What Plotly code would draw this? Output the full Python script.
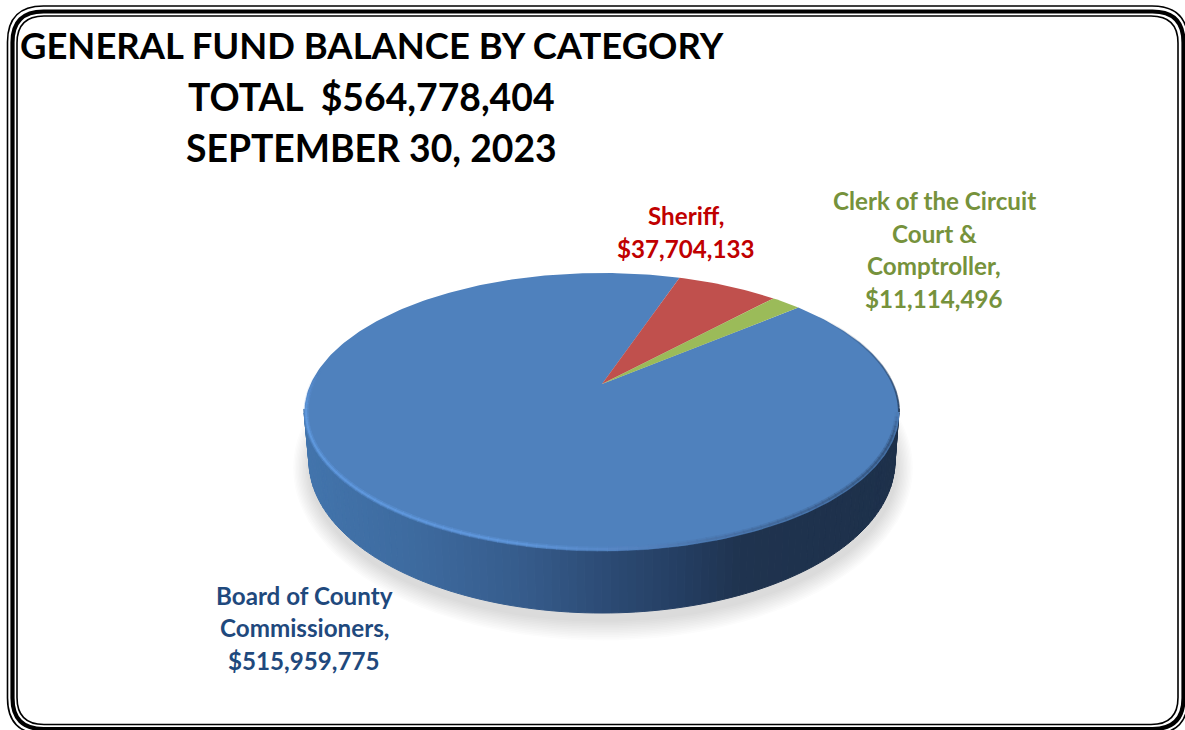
import math
import plotly.graph_objects as go

# ---- data ----
categories = ["Board of County Commissioners", "Sheriff", "Clerk of the Circuit Court & Comptroller"]
values = [515959775, 37704133, 11114496]
slice_colors = ["#4F81BD", "#C0504D", "#9BBB59"]
label_lines = [
    ["Board of County", "Commissioners,", "$515,959,775"],
    ["Sheriff,", "$37,704,133"],
    ["Clerk of the Circuit", "Court &", "Comptroller,", "$11,114,496"],
]
label_colors = ["#1F497D", "#C00000", "#76923C"]
title_lines = ["GENERAL FUND BALANCE BY CATEGORY", "TOTAL  $564,778,404", "SEPTEMBER 30, 2023"]
first_slice_angle = 49.6

# ---- geometry of the tilted disc (page-sized axes) ----
W, H = 1185, 730
APEX_X, APEX_Y = 602.0, 384.0
K, A, B = 0.2014, 133.4, 291.4      # perspective of the top face
TOP = (601.5, 412.0, 297.5, 139.0)  # cx, cy, rx, ry
BOT = (602.0, 461.0, 293.0, 152.0)

fig = go.Figure()


def poly(xs, ys, color):
    fig.add_trace(go.Scatter(x=xs, y=ys, mode="lines", fill="toself", fillcolor=color,
                             line=dict(width=0, color=color), hoverinfo="skip", showlegend=False))


def stroke(xs, ys, color, width):
    fig.add_trace(go.Scatter(x=xs, y=ys, mode="lines", line=dict(width=width, color=color),
                             hoverinfo="skip", showlegend=False))


def ell(e, t):
    return e[0] + e[2] * math.cos(t), e[1] + e[3] * math.sin(t)


def rim(theta_deg):
    th = math.radians(theta_deg)
    X, Y = math.sin(th), math.cos(th)
    d = 1 + K * Y
    return APEX_X + B * X / d, APEX_Y - A * Y / d


def mix(stops, v):
    for (a, ca), (b, cb) in zip(stops, stops[1:]):
        if v <= b:
            f = max(0, (v - a) / (b - a))
            return tuple(ca[i] + (cb[i] - ca[i]) * f for i in range(3))
    return stops[-1][1]


# soft shadow
for i in range(12, 0, -1):
    e = (603, 468, 293 + i * 1.4, 152 + i * 1.7)
    ts = [2 * math.pi * j / 120 for j in range(121)]
    pts = [ell(e, t) for t in ts]
    poly([p[0] for p in pts], [p[1] for p in pts], "rgba(60,60,60,0.015)")

# side wall, in thin strips with a horizontal gradient
wall_stops = [(305, (66, 116, 172)), (420, (61, 106, 158)), (520, (54, 92, 140)), (600, (45, 76, 118)),
              (680, (36, 62, 98)), (740, (31, 51, 79)), (900, (29, 48, 74))]
N = 110
for i in range(N):
    t0, t1 = math.pi * i / N, math.pi * (i + 1) / N
    a0, a1 = ell(TOP, t0), ell(TOP, t1)
    b0, b1 = ell(BOT, t0), ell(BOT, t1)
    xm = (a0[0] + a1[0] + b0[0] + b1[0]) / 4
    c = mix(wall_stops, xm)
    col = "rgb(%d,%d,%d)" % tuple(round(v) for v in c)
    # extend inward so neighbouring strips overlap without seams
    xs = [a0[0], a1[0], b1[0], b0[0], a0[0]]
    ys = [a0[1] - 3, a1[1] - 3, b1[1], b0[1], a0[1] - 3]
    fig.add_trace(go.Scatter(x=xs, y=ys, mode="lines", fill="toself", fillcolor=col,
                             line=dict(width=1, color=col), hoverinfo="skip", showlegend=False))

# slices of the top face, swept from the values
total = sum(values)
start = first_slice_angle
for val, col in zip(values, slice_colors):
    sweep = 360 * val / total
    n = max(4, int(sweep))
    pts = [rim(start + sweep * j / n) for j in range(n + 1)]
    xs = [APEX_X] + [p[0] for p in pts] + [APEX_X]
    ys = [APEX_Y] + [p[1] for p in pts] + [APEX_Y]
    poly(xs, ys, col)
    start += sweep

# bevel along the rim: bright on the front-left, fading and dark on the right
bevel_stops = [(300, (98, 156, 226)), (520, (96, 152, 222)), (620, (88, 134, 196)), (720, (72, 112, 165)), (900, (50, 80, 120))]
M = 100
T_END = math.pi + 0.3
for i in range(M):
    t0, t1 = T_END * i / M, T_END * (i + 1) / M + 0.004
    segs = [ell(TOP, t0 + (t1 - t0) * j / 2) for j in range(3)]
    tm = (t0 + t1) / 2
    fade = min(1.0, tm / 0.2, max(0.0, (T_END - tm) / 0.35))
    xm = segs[1][0]
    c = tuple(round(v) for v in mix(bevel_stops, xm))
    # inset toward the face centre so the stroke stays inside the silhouette
    xs = [TOP[0] + (p[0] - TOP[0]) * 0.993 for p in segs]
    ys = [TOP[1] + (p[1] - TOP[1]) * 0.985 for p in segs]
    stroke(xs, ys, "rgba(%d,%d,%d,%.2f)" % (c + (0.35 * fade,)), 5)
    stroke(xs, ys, "rgba(%d,%d,%d,%.2f)" % (c + (0.75 * fade,)), 2)
# dark edge on the upper right of the face
for i in range(24):
    t0, t1 = -0.75 * (i + 1) / 24, -0.75 * i / 24
    a = ell(TOP, t0)
    b = ell(TOP, t1)
    stroke([a[0], b[0]], [a[1], b[1]], "rgba(28,48,75,%.2f)" % (0.7 * (1 - (i / 24))), 2)

# labels
label_pos = [(304, 595), (686, 215.5), (934, 200.5)]
label_gap = 32.7
for lines, col, (lx, ly) in zip(label_lines, label_colors, label_pos):
    for j, txt in enumerate(lines):
        fig.add_annotation(x=lx, y=ly + j * label_gap, text=txt, showarrow=False,
                           xref="x", yref="y", xanchor="center", yanchor="middle",
                           font=dict(family="Lato", size=24.2, color=col, weight=700))

# three title lines, centred on one column
title_y = [44.5, 96.5, 147.5]
title_sizes = [36.4, 37.3, 37.3]
for txt, ty, ts_ in zip(title_lines, title_y, title_sizes):
    fig.add_annotation(x=371.5, y=ty, text=txt, showarrow=False, xref="x", yref="y",
                       xanchor="center", yanchor="middle",
                       font=dict(family="Lato", size=ts_, color="black", weight=700))


def rrect(l, t, r, b, q):
    return (f"M{l + q},{t} L{r - q},{t} Q{r},{t} {r},{t + q} L{r},{b - q} Q{r},{b} {r - q},{b} "
            f"L{l + q},{b} Q{l},{b} {l},{b - q} L{l},{t + q} Q{l},{t} {l + q},{t} Z")


shapes = []
for l, t, r, b, q, w in [(7.5, 6, 1188, 734, 36, 1.6), (12.5, 11.5, 1183.5, 729, 31, 4.2), (17, 16, 1178, 724.5, 27, 1.6)]:
    shapes.append(dict(type="path", path=rrect(l, t, r, b, q), xref="x", yref="y",
                       line=dict(color="black", width=w), layer="above"))

fig.update_layout(
    width=W, height=H, margin=dict(l=0, r=0, t=0, b=0),
    paper_bgcolor="white", plot_bgcolor="white", showlegend=False,
    xaxis=dict(range=[0, W], visible=False, fixedrange=True),
    yaxis=dict(range=[H, 0], visible=False, fixedrange=True),
    shapes=shapes,
)

fig.write_html("out.html", config=dict(displayModeBar=False),
               post_script="document.body.style.margin='0';document.documentElement.style.overflow='hidden';")
